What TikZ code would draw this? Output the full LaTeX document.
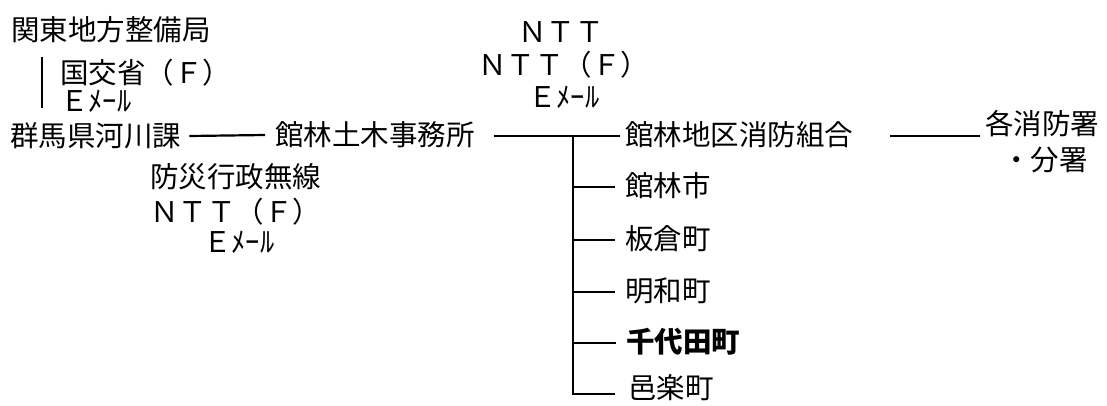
\documentclass[tikz,border=0pt]{standalone}
\usepackage{fontspec}
\setmainfont{Noto Sans CJK JP}
\begin{document}
\begin{tikzpicture}[x=1pt,y=-1pt,
  lbl/.style={inner sep=0pt, anchor=west, font=\fontsize{28.5}{34}\selectfont},
  conn/.style={line width=2.2pt}]
\useasboundingbox (0,0) rectangle (1107,405);
% left side
\node[lbl] (kanto) at (11,30) {関東地方整備局};
\node[lbl] (kokko) at (60,73) {国交省（Ｆ）};
\node[lbl] (mail1) at (60,101) {Ｅﾒｰﾙ};
\node[lbl] (gunma) at (10,136) {群馬県河川課};
\node[lbl] (doboku) at (275,135) {館林土木事務所};
\node[lbl] (bousai) at (150,177) {防災行政無線};
\node[lbl] (nttf2) at (150,212) {ＮＴＴ（Ｆ）};
\node[lbl] (mail3) at (203,242) {Ｅﾒｰﾙ};
% top middle
\node[lbl, anchor=center] (ntt) at (561,32) {ＮＴＴ};
\node[lbl] (nttf) at (478,65) {ＮＴＴ（Ｆ）};
\node[lbl] (mail2) at (528,97) {Ｅﾒｰﾙ};
% right
\node[lbl] (shobo) at (625,135) {館林地区消防組合};
\node[lbl] (kaku) at (985,124) {各消防署};
\node[lbl] (bunsho) at (1002,160) {・分署};
\node[lbl] (tatebayashi) at (625,186) {館林市};
\node[lbl] (itakura) at (625,239) {板倉町};
\node[lbl] (meiwa) at (625,291) {明和町};
\node[lbl, font=\fontsize{28.5}{34}\selectfont\bfseries] (chiyoda) at (626,342) {千代田町};
\node[lbl] (oura) at (628,388) {邑楽町};
% connectors
\coordinate (bartop) at (42,57);
\coordinate (barbot) at (42,108);
\draw[conn] (bartop) -- (barbot);
\draw[conn] ([xshift=8pt]gunma.east) -- ([xshift=-10pt]doboku.west);
\coordinate (j) at (573,136);
\draw[conn] ([xshift=19pt]doboku.east |- j) -- (j) -- ([xshift=-5pt]shobo.west |- j);
\draw[conn] ([xshift=37pt]shobo.east |- j) -- ([xshift=-5pt]kaku.west |- j);
\draw[conn] (j) -- (j |- 0,394) -- ([xshift=-13pt]oura.west |- 0,394);
\foreach \n/\yy in {tatebayashi/187, itakura/240, meiwa/292, chiyoda/343}
  \draw[conn] (573,\yy) -- ([xshift=-10pt]\n.west |- 0,\yy);
\end{tikzpicture}
\end{document}
